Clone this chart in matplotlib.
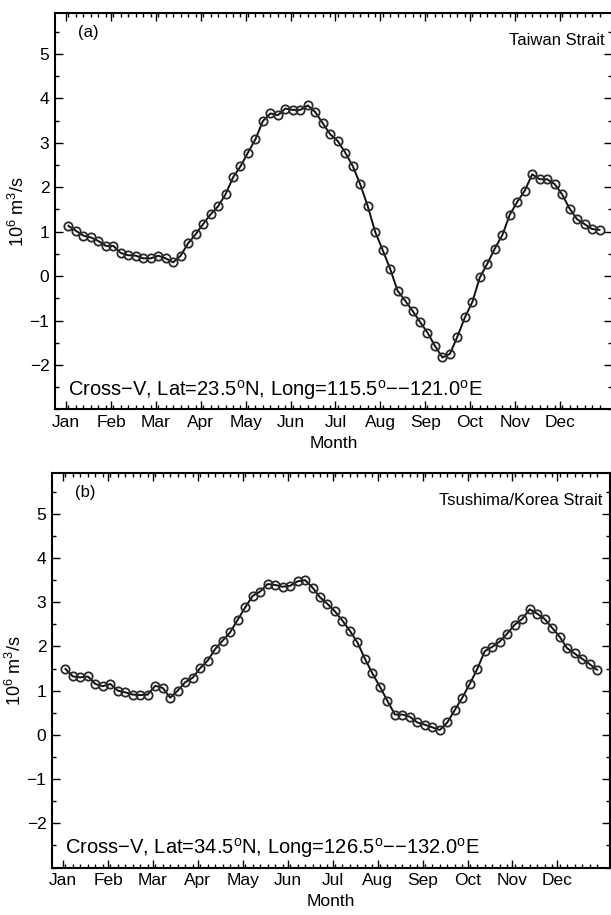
import numpy as np
import matplotlib
matplotlib.use("Agg")
import matplotlib.pyplot as plt
from matplotlib.ticker import MultipleLocator, FixedLocator

plt.rcParams['font.family'] = ['Liberation Sans', 'DejaVu Sans']
plt.rcParams['mathtext.fontset'] = 'custom'
plt.rcParams['mathtext.rm'] = 'Liberation Sans'
plt.rcParams['mathtext.it'] = 'Liberation Sans:italic'

#etichette dei mesi
mesi = ["Jan", "Feb", "Mar", "Apr", "May", "Jun",
        "Jul", "Aug", "Sep", "Oct", "Nov", "Dec"]

#trasporto (10^6 m^3/s) per pentade, stretto di Taiwan
taiwan = [1.13, 1.02, 0.91, 0.87, 0.79, 0.68, 0.68, 0.52, 0.47, 0.46, 0.40, 0.40,
          0.46, 0.40, 0.31, 0.46, 0.74, 0.94, 1.17, 1.39, 1.57, 1.84, 2.22, 2.47,
          2.78, 3.08, 3.49, 3.66, 3.62, 3.77, 3.74, 3.74, 3.84, 3.69, 3.44, 3.19,
          3.04, 2.78, 2.48, 2.07, 1.58, 1.00, 0.59, 0.17, -0.33, -0.55, -0.78, -1.03,
          -1.27, -1.57, -1.83, -1.75, -1.36, -0.93, -0.58, -0.03, 0.28, 0.62, 0.92, 1.38,
          1.67, 1.92, 2.29, 2.18, 2.18, 2.07, 1.84, 1.52, 1.28, 1.17, 1.06, 1.04]

#trasporto per pentade, stretto di Tsushima/Corea
tsushima = [1.49, 1.32, 1.30, 1.32, 1.15, 1.10, 1.15, 1.00, 0.96, 0.91, 0.90, 0.91,
            1.11, 1.06, 0.84, 1.00, 1.19, 1.29, 1.51, 1.68, 1.94, 2.13, 2.32, 2.60,
            2.88, 3.14, 3.24, 3.41, 3.39, 3.35, 3.37, 3.47, 3.50, 3.33, 3.11, 2.96,
            2.79, 2.58, 2.35, 2.09, 1.72, 1.39, 1.09, 0.77, 0.46, 0.46, 0.41, 0.28,
            0.23, 0.17, 0.11, 0.28, 0.56, 0.84, 1.15, 1.49, 1.89, 1.99, 2.11, 2.29,
            2.49, 2.62, 2.84, 2.74, 2.62, 2.42, 2.22, 1.96, 1.84, 1.72, 1.60, 1.47]

titoli = ["Taiwan Strait", "Tsushima/Korea Strait"]
lettere = ["(a)", "(b)"]
didascalie = [r"Cross$-$V, Lat=23.5$^{\rm o}$N, Long=115.5$^{\rm o}$$-$$-$121.0$^{\rm o}$E",
              r"Cross$-$V, Lat=34.5$^{\rm o}$N, Long=126.5$^{\rm o}$$-$$-$132.0$^{\rm o}$E"]

fig = plt.figure(figsize=(6.11, 9.15), dpi=100)
#posizioni degli assi (in frazione di figura)
posizioni = [[0.090, 0.5525, 0.912, 0.4333],
             [0.085, 0.0519, 0.913, 0.4311]]

pentadi = np.arange(len(taiwan))
mesi_pos = [6 * i - 0.3 for i in range(12)]

for k, serie in enumerate([taiwan, tsushima]):
    ax = fig.add_axes(posizioni[k])
    ax.plot(pentadi, serie, color='#111111', lw=1.4, marker='o', ms=6,
            mfc='none', mec='#2a2a2a', mew=1.3)

    ax.set_xlim(-1.8, 72.7)
    ax.set_ylim(-3, 5.92)

    ax.xaxis.set_major_locator(FixedLocator(mesi_pos))
    ax.set_xticklabels(mesi)
    ax.xaxis.set_minor_locator(FixedLocator(pentadi))
    ax.yaxis.set_major_locator(FixedLocator([-2, -1, 0, 1, 2, 3, 4, 5]))
    ax.yaxis.set_minor_locator(MultipleLocator(0.5))
    ax.tick_params(which='both', direction='in', top=True, right=True,
                   labelsize=12.5, width=1.0)
    ax.tick_params(which='major', length=6, pad=4)
    ax.tick_params(which='minor', length=3)
    for s in ax.spines.values():
        s.set_linewidth(1.5)

    ax.set_xlabel("Month", fontsize=12.5, labelpad=4)
    ax.set_ylabel(r"10$^6$ m$^3$/s", fontsize=13, labelpad=1)

    ax.text(1.3, 5.48, lettere[k], fontsize=12, ha='left', va='center')
    ax.text(71.7, 5.3, titoli[k], fontsize=12, ha='right', va='center')
    ax.text(0.0, -2.56, didascalie[k], fontsize=14.5, ha='left', va='center')

fig.savefig("out.png", dpi=100)
